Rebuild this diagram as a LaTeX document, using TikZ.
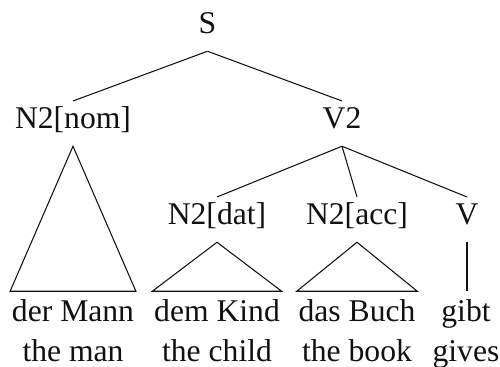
\documentclass[tikz,border=0pt]{standalone}
\usepackage{fontspec}
\setmainfont{Liberation Serif}
\usepackage{xcolor}
\usepackage{tikz}
\definecolor{treeink}{HTML}{111111}
\tikzset{
  cat/.style={inner sep=0.27cm,anchor=base,text height=0.75em,text depth=0.25em,font=\fontsize{18}{21}\selectfont,text=treeink},
  word/.style={inner xsep=0.03cm,inner ysep=0.325cm,anchor=base,text height=0.75em,text depth=0.25em,font=\fontsize{18}{21}\selectfont,text=treeink},
  gloss/.style={inner sep=0pt,anchor=base,font=\fontsize{18}{21}\selectfont,text=treeink},
  branch/.style={line width=0.6pt,draw=treeink,line join=miter}
}
\begin{document}
\begin{tikzpicture}[x=0.02cm,y=-0.02cm]
\useasboundingbox (0,0) rectangle (500,366);
\node[cat] (s) at (207.5,33) {S};
\node[cat] (nom) at (73,128) {N2[nom]};
\node[cat] (v2) at (342,128) {V2};
\node[cat] (dat) at (217,224) {N2[dat]};
\node[cat] (acc) at (357,224) {N2[acc]};
\node[cat] (v) at (467,224) {V};
\node[word] (mann) at (73,321) {der Mann};
\node[word] (kind) at (217,321) {dem Kind};
\node[word] (buch) at (357,321) {das Buch};
\node[word] (gibt) at (466,321) {gibt};
\node[gloss] (man) at (73,361) {the man};
\node[gloss] (child) at (217,361) {the child};
\node[gloss] (book) at (357,361) {the book};
\node[gloss] (gives) at (466,361) {gives};
\draw[branch] (s.south) -- (nom.north);
\draw[branch] (s.south) -- (v2.north);
\draw[branch] (v2.south) -- (dat.north);
\draw[branch] (v2.south) -- (acc.north);
\draw[branch] (v2.south) -- (v.north);
\draw[branch] (nom.south) -- (mann.north west) -- (mann.north east) -- cycle;
\draw[branch] (dat.south) -- (kind.north west) -- (kind.north east) -- cycle;
\draw[branch] (acc.south) -- (buch.north west) -- (buch.north east) -- cycle;
\draw[branch] (v.south) -- (v.south |- gibt.north);
\end{tikzpicture}
\end{document}
